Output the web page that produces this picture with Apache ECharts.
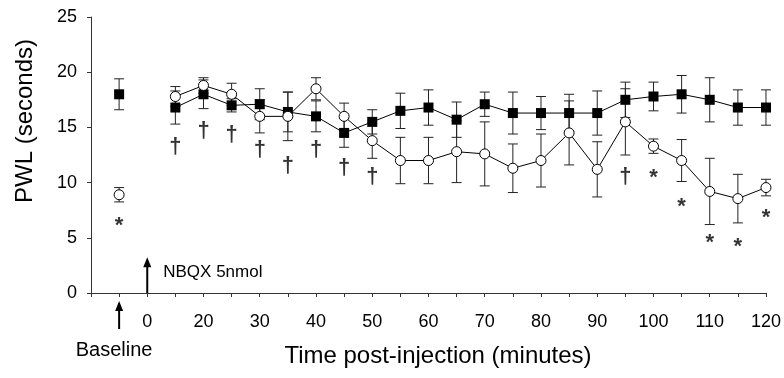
<!DOCTYPE html>
<html><head><meta charset="utf-8">
<script src="https://cdn.jsdelivr.net/npm/echarts@6/dist/echarts.min.js"></script>
<style>html,body{margin:0;padding:0;background:#fff}#c{width:784px;height:378px}</style>
</head><body><div id="c"></div>
<script>
// ---- data ----
const categories = ['', 'Baseline', '0', '15', '20', '25', '30', '35', '40', '45', '50', '55', '60', '65', '70', '75', '80', '85', '90', '95', '100', '105', '110', '115', '120'];
const shownLabels = ['0', '20', '30', '40', '50', '60', '70', '80', '90', '100', '110', '120'];
const yTicks = [0, 5, 10, 15, 20, 25];

const controlMean = [null, 18.0, null, 16.8, 18.0, 17.0, 17.1, 16.4, 16.0, 14.5, 15.5, 16.5, 16.8, 15.7, 17.1, 16.3, 16.3, 16.3, 16.3, 17.5, 17.8, 18.0, 17.5, 16.8, 16.8];
const controlErr  = [null, 1.4, null, 1.5, 1.3, 0.6, 1.4, 1.8, 1.4, 1.3, 1.1, 1.6, 1.6, 1.6, 1.1, 1.9, 1.5, 1.7, 2.0, 1.6, 1.3, 1.7, 2.0, 1.6, 1.6];
const treatedMean = [null, 8.9, null, 17.8, 18.8, 18.0, 16.0, 16.0, 18.5, 16.0, 13.8, 12.0, 12.0, 12.8, 12.6, 11.3, 12.0, 14.5, 11.2, 15.5, 13.3, 12.0, 9.2, 8.55, 9.55];
const treatedErr  = [null, 0.65, null, 0.9, 0.7, 1.0, 1.5, 2.2, 1.0, 1.2, 1.6, 2.1, 2.1, 2.8, 2.9, 2.2, 2.4, 2.9, 2.5, 3.0, 0.65, 1.9, 3.0, 2.2, 0.75];

const annotCats   = ['Baseline', '15', '20', '25', '30', '35', '40', '45', '50', '95', '100', '105', '110', '115', '120'];
const annotValues = [6.6, 13.2, 14.7, 14.3, 13.0, 11.5, 13.0, 11.3, 10.5, 10.5, 11.0, 8.3, 5.1, 4.7, 7.3];
const annotMarks  = ['*', '†', '†', '†', '†', '†', '†', '†', '†', '†', '*', '*', '*', '*', '*'];

// ---- build ----
const FONT = '"Liberation Sans", Arial, sans-serif';
const toLine = arr => arr.map(v => v == null ? '-' : v);
const toErr = (m, e) => m.map((v, i) => v == null ? null : [i, v, e[i]]).filter(Boolean);

function errRender(params, api) {
  const x = api.value(0), m = api.value(1), e = api.value(2);
  const top = api.coord([x, m + e]);
  const bot = api.coord([x, m - e]);
  const hw = 5;
  const st = { stroke: '#222', lineWidth: 1 };
  return {
    type: 'group',
    children: [
      { type: 'line', shape: { x1: top[0], y1: top[1], x2: bot[0], y2: bot[1] }, style: st },
      { type: 'line', shape: { x1: top[0] - hw, y1: top[1], x2: top[0] + hw, y2: top[1] }, style: st },
      { type: 'line', shape: { x1: bot[0] - hw, y1: bot[1], x2: bot[0] + hw, y2: bot[1] }, style: st }
    ]
  };
}

const annotData = annotCats.map((c, i) => ({
  value: [categories.indexOf(c), annotValues[i], annotMarks[i]],
  label: { offset: annotMarks[i] === '*' ? [0, 6] : [0, 0] }
}));

const chart = echarts.init(document.getElementById('c'), null, { renderer: 'canvas' });
chart.setOption({
  animation: false,
  backgroundColor: '#fff',
  grid: { left: 91, right: 16, top: 17, bottom: 85, containLabel: false },
  xAxis: {
    type: 'category', data: categories, boundaryGap: false,
    axisLine: { lineStyle: { color: '#333', width: 1 } },
    axisTick: { show: true, interval: 0, length: 4, lineStyle: { color: '#333' } },
    axisLabel: {
      interval: 0, margin: 20, fontSize: 18, color: '#000', fontFamily: FONT,
      formatter: v => shownLabels.includes(v) ? v : ''
    },
    splitLine: { show: false }
  },
  yAxis: {
    type: 'value', min: yTicks[0], max: yTicks[yTicks.length - 1], interval: 5,
    axisLine: { show: true, lineStyle: { color: '#333', width: 1 } },
    axisTick: { show: true, length: 4, lineStyle: { color: '#333' } },
    axisLabel: { margin: 14, fontSize: 18, color: '#000', fontFamily: FONT },
    splitLine: { show: false }
  },
  series: [
    { type: 'custom', name: 'ctrlErr', renderItem: errRender, data: toErr(controlMean, controlErr), encode: { x: 0, y: 1 }, z: 2, silent: true },
    { type: 'custom', name: 'trtErr', renderItem: errRender, data: toErr(treatedMean, treatedErr), encode: { x: 0, y: 1 }, z: 2, silent: true },
    {
      type: 'line', name: 'Control', data: toLine(controlMean), connectNulls: false,
      symbol: 'rect', symbolSize: 10, showSymbol: true, showAllSymbol: true,
      lineStyle: { color: '#000', width: 1 },
      itemStyle: { color: '#000', borderColor: '#000', borderWidth: 0 }, z: 3
    },
    {
      type: 'line', name: 'NBQX', data: toLine(treatedMean), connectNulls: false,
      symbol: 'circle', symbolSize: 10, showSymbol: true, showAllSymbol: true,
      lineStyle: { color: '#000', width: 1 },
      itemStyle: { color: '#fff', borderColor: '#000', borderWidth: 1 }, z: 4
    },
    {
      type: 'scatter', name: 'sig', data: annotData, symbol: 'circle', symbolSize: 1,
      itemStyle: { color: 'rgba(0,0,0,0)' }, z: 5, silent: true,
      label: {
        show: true, position: 'inside', fontSize: 22, fontWeight: 'bold', color: '#000', fontFamily: FONT,
        formatter: p => p.value[2]
      }
    }
  ]
});

// ---- annotations positioned through the axes ----
const px = (cat, v) => chart.convertToPixel({ gridIndex: 0 }, [categories.indexOf(cat), v]);
const z0 = px('0', 0), zTip = px('0', 3.24), nbqxTxt = px('0', 1.9);
const b0 = px('Baseline', 0);
const axisY = z0[1];
const blk = { fill: '#000' };

chart.setOption({
  graphic: [
    // NBQX arrow
    { type: 'line', shape: { x1: z0[0], y1: axisY, x2: z0[0], y2: zTip[1] + 8 }, style: { stroke: '#000', lineWidth: 2 } },
    { type: 'polygon', shape: { points: [[z0[0], zTip[1]], [z0[0] - 4, zTip[1] + 10], [z0[0] + 4, zTip[1] + 10]] }, style: blk },
    { type: 'text', x: z0[0] + 16, y: nbqxTxt[1], style: { text: 'NBQX 5nmol', fontSize: 17, fontFamily: FONT, fill: '#000', verticalAlign: 'middle', align: 'left' } },
    // Baseline arrow
    { type: 'line', shape: { x1: b0[0], y1: axisY + 14, x2: b0[0], y2: axisY + 36 }, style: { stroke: '#000', lineWidth: 2 } },
    { type: 'polygon', shape: { points: [[b0[0], axisY + 8], [b0[0] - 4, axisY + 18], [b0[0] + 4, axisY + 18]] }, style: blk },
    { type: 'text', x: b0[0] - 5, y: axisY + 57, style: { text: 'Baseline', fontSize: 20, fontFamily: FONT, fill: '#000', verticalAlign: 'middle', align: 'center' } },
    // axis titles
    { type: 'text', x: 438, y: 356, style: { text: 'Time post-injection (minutes)', fontSize: 24, fontFamily: FONT, fill: '#000', verticalAlign: 'middle', align: 'center' } },
    { type: 'text', x: 25, y: 121, rotation: Math.PI / 2, style: { text: 'PWL (seconds)', fontSize: 24, fontFamily: FONT, fill: '#000', verticalAlign: 'middle', align: 'center' } }
  ]
});
</script>
</body></html>
